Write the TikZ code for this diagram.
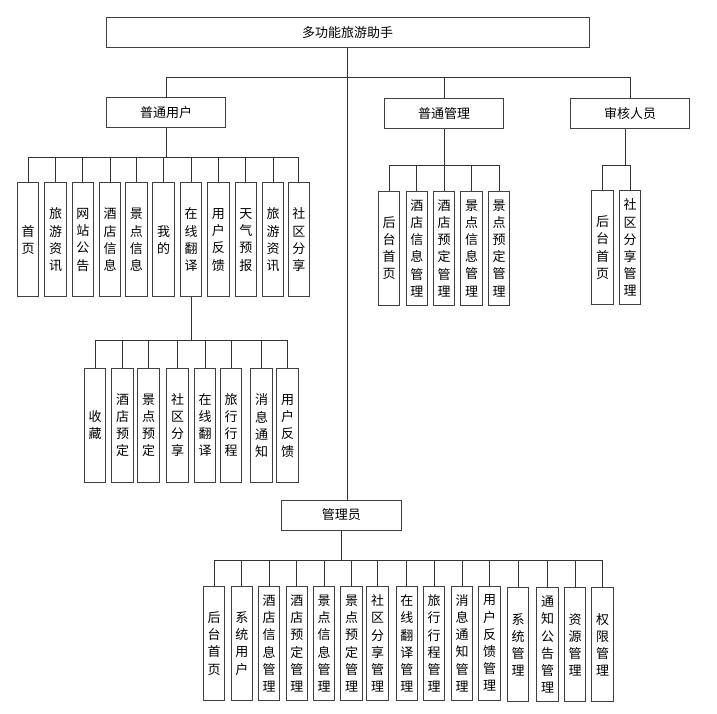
\documentclass[tikz,border=0pt]{standalone}
\usepackage{fontspec}
\newfontfamily\cjk{Noto Sans CJK SC}
\begin{document}
\begin{tikzpicture}[x=1pt,y=-1pt,
  box/.style={draw=black!75,line width=1pt,inner sep=0pt,font=\cjk\fontsize{13}{16}\selectfont},
  catbox/.style={box,minimum width=119.5pt,minimum height=30pt},
  leaf/.style={box,minimum width=21.5pt,minimum height=114pt,anchor=north,align=center,font=\cjk\fontsize{13}{17.2}\selectfont},
  wire/.style={draw=black!80,line width=0.9pt}]
\useasboundingbox (0,0) rectangle (717,714);
% bus levels
\coordinate (busA) at (0,77);
\coordinate (busU) at (0,157.3);
\coordinate (busT) at (0,340.7);
\coordinate (busG) at (0,165.3);
\coordinate (busM) at (0,560.3);
% main boxes
\node[box,minimum width=483pt,minimum height=29.5pt] (root) at (347.5,32.5) {多功能旅游助手};
\node[catbox] (user) at (166,112.7) {普通用户};
\node[catbox] (gm) at (444.2,113.7) {普通管理};
\node[catbox] (aud) at (630.2,113.7) {审核人员};
\node[catbox] (admin) at (341.3,515) {管理员};
\draw[wire] (user.north) -- (user.north |- busA) -- (aud.north |- busA) -- (aud.north);
\draw[wire] (gm.north) -- (gm.north |- busA);
\draw[wire] (root.south) -- (root.south |- admin.north);
% user leaves
\foreach \x/\t [count=\i] in {28.2/首\\页, 55.5/旅\\游\\资\\讯, 82.9/网\\站\\公\\告, 110/酒\\店\\信\\息, 136.3/景\\点\\信\\息, 163.7/我\\的, 191/在\\线\\翻\\译, 218.3/用\\户\\反\\馈, 245.8/天\\气\\预\\报, 273.2/旅\\游\\资\\讯, 298.9/社\\区\\分\\享}{
  \node[leaf] (u\i) at (\x,182.3) {\t};
  \draw[wire] (u\i.north) -- (u\i.north |- busU);
}
\draw[wire] (u1.north |- busU) -- (u11.north |- busU);
\draw[wire] (user.south) -- (user.south |- busU);
% translation children
\foreach \x/\y/\t [count=\i] in {95.2/367.7/收\\藏, 122.5/367.7/酒\\店\\预\\定, 148.7/367.7/景\\点\\预\\定, 177.5/367.7/社\\区\\分\\享, 205/367.7/在\\线\\翻\\译, 231/367.7/旅\\行\\行\\程, 261.5/368.3/消\\息\\通\\知, 287.7/368.3/用\\户\\反\\馈}{
  \node[leaf] (t\i) at (\x,\y) {\t};
  \draw[wire] (t\i.north) -- (t\i.north |- busT);
}
\draw[wire] (t1.north |- busT) -- (t8.north |- busT);
\draw[wire] (u7.south) -- (u7.south |- busT);
% general management children
\foreach \x/\t [count=\i] in {389.2/后\\台\\首\\页, 416.8/酒\\店\\信\\息\\管\\理, 444.2/酒\\店\\预\\定\\管\\理, 471.5/景\\点\\信\\息\\管\\理, 499.2/景\\点\\预\\定\\管\\理}{
  \node[leaf] (g\i) at (\x,190.7) {\t};
  \draw[wire] (g\i.north) -- (g\i.north |- busG);
}
\draw[wire] (g1.north |- busG) -- (g5.north |- busG);
\draw[wire] (gm.south) -- (gm.south |- busG);
% auditor children
\node[leaf] (a1) at (602.7,190.2) {后\\台\\首\\页};
\node[leaf] (a2) at (630,190.2) {社\\区\\分\\享\\管\\理};
\draw[wire] (a1.north) -- (a1.north |- busG) -- (a2.north |- busG) -- (a2.north);
\draw[wire] ([xshift=-5pt]aud.south) -- ([xshift=-5pt]aud.south |- busG);
% admin children
\foreach \x/\y/\t [count=\i] in {214.2/586/后\\台\\首\\页, 241.8/586/系\\统\\用\\户, 269.2/586/酒\\店\\信\\息\\管\\理, 296.8/586/酒\\店\\预\\定\\管\\理, 324.2/586/景\\点\\信\\息\\管\\理, 351.5/586/景\\点\\预\\定\\管\\理, 377.5/586/社\\区\\分\\享\\管\\理, 406.8/586/在\\线\\翻\\译\\管\\理, 434.2/586/旅\\行\\行\\程\\管\\理, 462/585.7/消\\息\\通\\知\\管\\理, 489.5/585.7/用\\户\\反\\馈\\管\\理, 518.2/587.3/系\\统\\管\\理, 547.7/587.3/通\\知\\公\\告\\管\\理, 575/587.3/资\\源\\管\\理, 602.5/587.3/权\\限\\管\\理}{
  \node[leaf] (m\i) at (\x,\y) {\t};
  \draw[wire] (m\i.north) -- (m\i.north |- busM);
}
\draw[wire] (m1.north |- busM) -- (m15.north |- busM);
\draw[wire] (admin.south) -- (admin.south |- busM);
\end{tikzpicture}
\end{document}
